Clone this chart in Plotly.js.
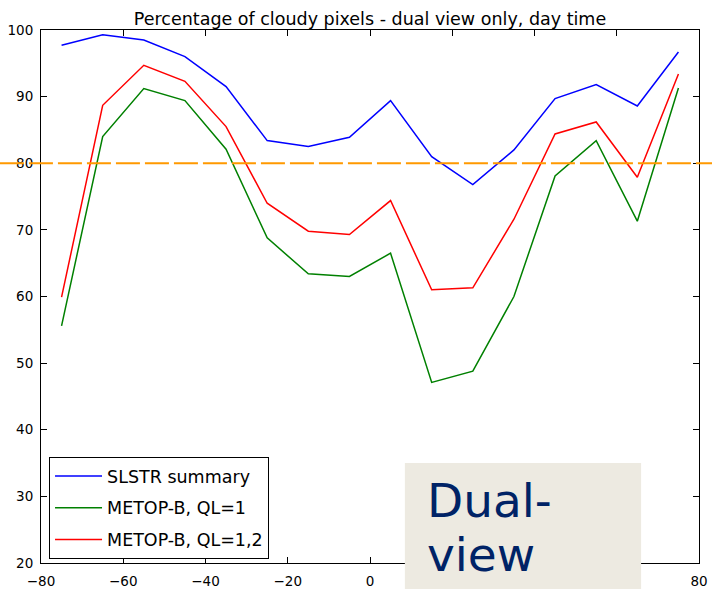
<!DOCTYPE html>
<html>
<head>
<meta charset="utf-8">
<script src="https://cdn.plot.ly/plotly-3.0.1.min.js"></script>
<style>
  html, body { margin: 0; padding: 0; background: #fff; }
  #chart { width: 712px; height: 589px; }
</style>
</head>
<body>
<div id="chart"></div>
<script>
// Latitude band centres (degrees)
const latitude = [-75, -65, -55, -45, -35, -25, -15, -5, 5, 15, 25, 35, 45, 55, 65, 75];

// Percentage of cloudy pixels per latitude band
const slstrSummary = [97.7, 99.3, 98.5, 96.0, 91.5, 83.4, 82.5, 83.9, 89.4, 81.0, 76.8, 82.0, 89.7, 91.8, 88.6, 96.7];
const metopQL1     = [55.6, 84.0, 91.2, 89.4, 82.1, 68.8, 63.4, 63.0, 66.5, 47.1, 48.8, 60.0, 78.1, 83.4, 71.3, 91.3];
const metopQL12    = [59.9, 88.7, 94.7, 92.3, 85.5, 74.0, 69.8, 69.3, 74.4, 61.0, 61.3, 71.6, 84.4, 86.2, 77.9, 93.4];

const seriesNames = ['SLSTR summary', 'METOP-B, QL=1', 'METOP-B, QL=1,2'];
const threshold = 80;

// x ticks 20..60 sit underneath the label panel, so their text is left empty
const xTicks = [-80, -60, -40, -20, 0, 20, 40, 60, 80];
const xTickText = ['\u221280', '\u221260', '\u221240', '\u221220', '0', '', '', '', '80'];
const yTicks = [20, 30, 40, 50, 60, 70, 80, 90, 100];

const FONT = 'DejaVu Sans, sans-serif';

function line(y, name, color) {
  return {
    x: latitude, y: y, name: name, legendgroup: name,
    type: 'scatter', mode: 'lines',
    line: { color: color, width: 1.5 },
    hoverinfo: 'skip'
  };
}

const traces = [
  line(slstrSummary, seriesNames[0], '#0000ff'),
  line(metopQL1, seriesNames[1], '#008000'),
  line(metopQL12, seriesNames[2], '#ff0000')
];

const axisCommon = {
  showgrid: false, zeroline: false,
  showline: true, linecolor: '#000', linewidth: 1,
  mirror: 'ticks', ticks: 'inside', ticklen: 6, tickwidth: 1, tickcolor: '#000',
  tickfont: { family: FONT, size: 13.5, color: '#000' }
};

const layout = {
  width: 712, height: 589,
  margin: { l: 41, r: 13, t: 29.5, b: 26, pad: 0 },
  paper_bgcolor: '#fff', plot_bgcolor: '#fff',
  title: {
    text: 'Percentage of cloudy pixels - dual view only, day time',
    font: { family: FONT, size: 17.5, color: '#000' },
    x: 0.5, xref: 'paper', xanchor: 'center',
    y: 1, yref: 'paper', yanchor: 'bottom', pad: { b: 5 }
  },
  xaxis: Object.assign({}, axisCommon, {
    range: [-80, 80], tickmode: 'array', tickvals: xTicks, ticktext: xTickText,
    ticklabelstandoff: 6
  }),
  yaxis: Object.assign({}, axisCommon, {
    range: [20, 100], tickvals: yTicks, ticklabelstandoff: 4
  }),
  showlegend: true,
  legend: {
    x: 0.0122, y: 0.0075, xanchor: 'left', yanchor: 'bottom',
    bgcolor: '#fff', bordercolor: '#000', borderwidth: 1,
    font: { family: FONT, size: 17.5, color: '#000' },
    tracegroupgap: 6, itemwidth: 47, traceorder: 'grouped'
  },
  shapes: [
    // 80 % reference line across the full figure width
    {
      type: 'line', layer: 'above',
      xref: 'paper', x0: -0.0624, x1: 1.02,
      yref: 'y', y0: threshold, y1: threshold,
      line: { color: '#ff9900', width: 2, dash: '24px,5px' }
    },
    // label panel in the lower right
    {
      type: 'rect', layer: 'above',
      xref: 'paper', x0: 0.553, x1: 0.912,
      yref: 'paper', y0: -0.08, y1: 0.1874,
      fillcolor: '#edeae1', line: { width: 0 }
    }
  ],
  annotations: [
    {
      text: 'Dual-', showarrow: false,
      xref: 'paper', x: 0.5836, xanchor: 'left',
      yref: 'paper', y: 0.1166, yanchor: 'middle',
      font: { family: FONT, size: 47, color: '#002366' }
    },
    {
      text: 'view', showarrow: false,
      xref: 'paper', x: 0.5836, xanchor: 'left',
      yref: 'paper', y: 0.0154, yanchor: 'middle',
      font: { family: FONT, size: 47, color: '#002366' }
    }
  ]
};

Plotly.newPlot('chart', traces, layout, { displayModeBar: false, staticPlot: true });
</script>
</body>
</html>
